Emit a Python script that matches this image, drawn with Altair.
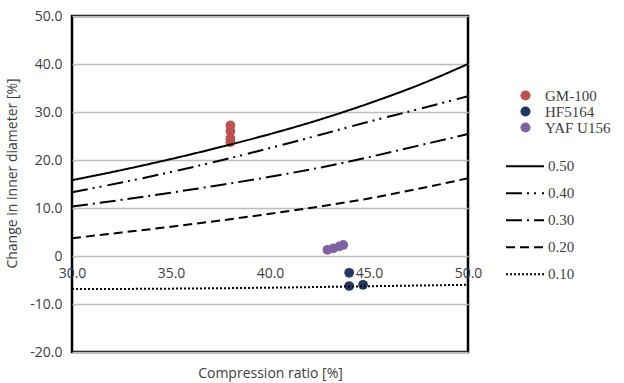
import altair as alt
import pandas as pd

# ---- data ----
x_grid = [30, 32.5, 35, 37.5, 40, 42.5, 45, 47.5, 50]
curve_050 = [15.8, 17.9, 20.2, 22.7, 25.4, 28.4, 31.8, 35.6, 40.0]
curve_040 = [13.3, 15.3, 17.5, 19.9, 22.5, 25.2, 28.0, 30.6, 33.3]
curve_030 = [10.3, 11.7, 13.2, 14.8, 16.5, 18.4, 20.6, 23.0, 25.4]
curve_020 = [3.7, 4.9, 6.1, 7.4, 8.8, 10.3, 12.0, 14.0, 16.2]
x_010 = [30, 35, 40, 45, 50]
curve_010 = [-6.9, -6.8, -6.6, -6.3, -6.0]

gm_x = [38.0, 38.0, 38.0, 38.0]
gm_y = [27.2, 26.0, 24.5, 23.7]
hf_x = [44.0, 44.0, 44.7]
hf_y = [-3.5, -6.25, -6.0]
yaf_x = [42.9, 43.2, 43.5, 43.7]
yaf_y = [1.3, 1.6, 2.0, 2.3]

materials = ["GM-100", "HF5164", "YAF U156"]
material_colors = ["#c0504d", "#1f3864", "#8064a2"]
line_labels = ["0.50", "0.40", "0.30", "0.20", "0.10"]
line_dashes = [[1, 0], [16, 5, 2, 5, 2, 6], [16, 5, 2, 5], [9, 5], [2, 2]]
line_widths = [2, 2, 2, 2, 1.6]

# ---- tables ----
rows = []
for lab, xs, ys in [("0.50", x_grid, curve_050), ("0.40", x_grid, curve_040),
                    ("0.30", x_grid, curve_030), ("0.20", x_grid, curve_020),
                    ("0.10", x_010, curve_010)]:
    for xv, yv in zip(xs, ys):
        rows.append({"x": xv, "y": yv, "k": lab})
lines_df = pd.DataFrame(rows)

prow = []
for name, xs, ys in [("GM-100", gm_x, gm_y), ("HF5164", hf_x, hf_y), ("YAF U156", yaf_x, yaf_y)]:
    for xv, yv in zip(xs, ys):
        prow.append({"x": xv, "y": yv, "m": name})
pts_df = pd.DataFrame(prow)

FONT = "Open Sans"
TXT = "#404040"

x_enc = alt.X("x:Q", scale=alt.Scale(domain=[30, 50], nice=False, zero=False),
              axis=alt.Axis(values=[30, 35, 40, 45, 50], format=".1f", offset=-96,
                            domain=False, ticks=False, grid=False, labelPadding=10,
                            labelFlush=False, labelOverlap=False,
                            labelFont=FONT, labelFontSize=14, labelColor=TXT,
                            title="Compression ratio [%]", titleFont=FONT, titleFontSize=14,
                            titleFontWeight="normal", titleColor=TXT,
                            titleY=117, titleBaseline="middle"))
y_enc = alt.Y("y:Q", scale=alt.Scale(domain=[-20, 50], nice=False, zero=False),
              axis=alt.Axis(values=[-20, -10, 0, 10, 20, 30, 40, 50],
                            labelExpr="datum.value == 0 ? '0' : (datum.value < 0 ? '-' : '') + format(abs(datum.value), '.1f')",
                            domain=False, ticks=False, grid=True, gridColor="#bdbdbd",
                            gridWidth=1.5, labelPadding=10, labelFlush=False,
                            labelFont=FONT, labelFontSize=14, labelColor=TXT,
                            title="Change in inner diameter [%]", titleFont=FONT,
                            titleFontSize=14, titleFontWeight="normal", titleColor=TXT,
                            titleX=-60, titleY=157, titleAlign="center",
                            titleBaseline="middle", titleAngle=-90))

points = alt.Chart(pts_df).mark_circle(size=95, opacity=1).encode(
    x=x_enc, y=y_enc,
    color=alt.Color("m:N", scale=alt.Scale(domain=materials, range=material_colors),
                    legend=alt.Legend(title=None, orient="none", legendX=446, legendY=72,
                                      labelFont="Liberation Serif", labelFontSize=15,
                                      labelColor=TXT, symbolSize=100, symbolType="circle",
                                      labelOffset=12, rowPadding=0, padding=0)),
)

lines = alt.Chart(lines_df).mark_line(color="black", interpolate="monotone").encode(
    x=x_enc, y=y_enc,
    strokeDash=alt.StrokeDash("k:N", scale=alt.Scale(domain=line_labels, range=line_dashes),
                              legend=alt.Legend(title=None, orient="none", legendX=433,
                                                legendY=137, symbolType="stroke",
                                                symbolSize=1444, symbolStrokeWidth=2.5,
                                                symbolStrokeColor="black",
                                                labelFont="Liberation Serif",
                                                labelFontSize=15, labelColor=TXT,
                                                labelOffset=3, rowPadding=0, clipHeight=26.7,
                                                padding=0)),
    strokeWidth=alt.StrokeWidth("k:N", scale=alt.Scale(domain=line_labels, range=line_widths),
                                legend=None),
)

chart = alt.layer(points, lines).properties(
    width=396, height=336,
    autosize=alt.AutoSizeParams(type="none"),
    padding={"left": 72, "top": 16, "right": 156, "bottom": 31},
    background="white",
).configure_view(stroke="black", strokeWidth=2.5)

chart.save("out.html", embed_options={"renderer": "svg", "actions": False})
